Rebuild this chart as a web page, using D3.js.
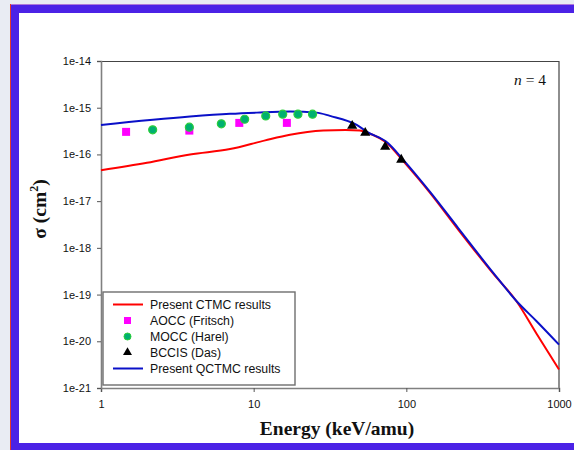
<!DOCTYPE html>
<html>
<head>
<meta charset="utf-8">
<script src="https://cdn.jsdelivr.net/npm/d3@7"></script>
<style>
  body { margin: 0; background: #e9ecf3; }
  svg { display: block; }
</style>
</head>
<body>
<div id="chart-area"></div>
<script>
// energies in keV/amu, cross sections in cm^2
var ctmcE = [1, 2, 3.83, 7, 11.9, 17.3, 28.6, 40, 49.6, 55, 76, 95.5, 143, 218, 371, 528, 713, 1000];
var ctmcSigma = [4.57e-17, 6.6e-17, 1.0e-16, 1.3e-16, 2.0e-16, 2.63e-16, 3.24e-16, 3.35e-16, 3.24e-16, 2.95e-16,
    1.66e-16, 7.2e-17, 1.51e-17, 2.5e-18, 2.8e-19, 7.1e-20, 1.45e-20, 2.5e-21];

var qctmcE = [1, 3.83, 7, 10.5, 17.3, 25.8, 31.6, 47.3, 55, 76, 95.5, 143, 218, 371, 528, 713, 1000];
var qctmcSigma = [4.27e-16, 6.46e-16, 7.4e-16, 7.85e-16, 8.26e-16, 7.85e-16, 6.68e-16, 4.29e-16, 3.08e-16,
    1.74e-16, 7.67e-17, 1.58e-17, 2.69e-18, 2.91e-19, 7.2e-20, 2.69e-20, 8.5e-21];

var aoccE = [1.46, 3.79, 8.05, 16.5];
var aoccSigma = [3.04e-16, 3.24e-16, 4.73e-16, 4.73e-16];

var moccE = [2.18, 3.79, 6.14, 8.73, 12.0, 15.5, 19.5, 24.3];
var moccSigma = [3.36e-16, 3.83e-16, 4.51e-16, 5.67e-16, 6.68e-16, 7.26e-16, 7.26e-16, 7.26e-16];

var bccisE = [44.2, 53.8, 72.7, 92.6];
var bccisSigma = [4.08e-16, 2.9e-16, 1.45e-16, 7.7e-17];

var xTicks = [1, 10, 100, 1000];
var yTicks = [1e-14, 1e-15, 1e-16, 1e-17, 1e-18, 1e-19, 1e-20, 1e-21];

var legendLabels = ["Present CTMC results", "AOCC (Fritsch)", "MOCC (Harel)", "BCCIS (Das)", "Present QCTMC results"];

var margin = {top: 61, right: 15, bottom: 62, left: 101};
var width = 574 - margin.left - margin.right;
var height = 450 - margin.top - margin.bottom;

var svg = d3.select("#chart-area")
  .append("svg")
    .attr("width", 574)
    .attr("height", 450);

// slide frame
svg.append("rect").attr("x", 10).attr("y", 4).attr("width", 564).attr("height", 446).attr("fill", "#e8362a");
svg.append("rect").attr("x", 11).attr("y", 4).attr("width", 563).attr("height", 446).attr("fill", "#4b22e6");
svg.append("rect").attr("x", 11).attr("y", 4).attr("width", 563).attr("height", 0.8).attr("fill", "#c98fd6");
svg.append("rect").attr("x", 19).attr("y", 13).attr("width", 555).attr("height", 430).attr("fill", "#ffffff");

var g = svg.append("g")
    .attr("transform", "translate(" + margin.left + ", " + margin.top + ")");

var x = d3.scaleLog().domain([1, 1000]).range([0, width]);
var y = d3.scaleLog().domain([1e-21, 1e-14]).range([height, 0]);

// frame top + right
g.append("path")
    .attr("d", "M0,0.5H" + width + "V" + height)
    .attr("fill", "none")
    .attr("stroke", "#444")
    .attr("stroke-width", 1.2);

var xAxisGroup = g.append("g")
    .attr("transform", "translate(0, " + height + ")")
    .call(d3.axisBottom(x).tickValues(xTicks).tickFormat(d3.format("d")).tickSize(4).tickPadding(8));

var yAxisGroup = g.append("g")
    .call(d3.axisLeft(y).tickValues(yTicks)
        .tickFormat((d) => { return "1e" + Math.round(Math.log10(d)); })
        .tickSize(4).tickPadding(6));

[xAxisGroup, yAxisGroup].forEach((ax) => {
    ax.select(".domain").attr("stroke", "#808080").attr("stroke-width", 1.6);
    ax.selectAll(".tick line").attr("stroke", "#555");
    ax.selectAll("text")
        .attr("font-family", "Liberation Sans, Arial, sans-serif")
        .attr("font-size", "11px")
        .attr("fill", "#111");
});

// lines
var line = d3.line()
    .x((d) => { return x(d[0]); })
    .y((d) => { return y(d[1]); })
    .curve(d3.curveMonotoneX);

g.append("path")
    .datum(ctmcE.map((e, i) => { return [e, ctmcSigma[i]]; }))
    .attr("d", line)
    .attr("fill", "none")
    .attr("stroke", "#ff0000")
    .attr("stroke-width", 2);

g.append("path")
    .datum(qctmcE.map((e, i) => { return [e, qctmcSigma[i]]; }))
    .attr("d", line)
    .attr("fill", "none")
    .attr("stroke", "#0a10c8")
    .attr("stroke-width", 2);

// markers
g.selectAll(".aocc")
    .data(aoccE.map((e, i) => { return [e, aoccSigma[i]]; }))
  .enter().append("rect")
    .attr("class", "aocc")
    .attr("x", (d) => { return x(d[0]) - 4; })
    .attr("y", (d) => { return y(d[1]) - 4; })
    .attr("width", 8)
    .attr("height", 8)
    .attr("fill", "#ff00ff");

g.selectAll(".mocc")
    .data(moccE.map((e, i) => { return [e, moccSigma[i]]; }))
  .enter().append("circle")
    .attr("class", "mocc")
    .attr("cx", (d) => { return x(d[0]); })
    .attr("cy", (d) => { return y(d[1]); })
    .attr("r", 4)
    .attr("fill", "#00b070")
    .attr("stroke", "#2ccf3a")
    .attr("stroke-width", 1.2);

var tri = d3.symbol().type(d3.symbolTriangle).size(45);
g.selectAll(".bccis")
    .data(bccisE.map((e, i) => { return [e, bccisSigma[i]]; }))
  .enter().append("path")
    .attr("class", "bccis")
    .attr("d", tri)
    .attr("transform", (d) => { return "translate(" + x(d[0]) + "," + y(d[1]) + ")"; })
    .attr("fill", "#000");

// legend
var legend = g.append("g").attr("transform", "translate(2, 231)");
legend.append("rect")
    .attr("x", 0).attr("y", 0).attr("width", 192).attr("height", 93)
    .attr("fill", "#fff")
    .attr("stroke", "#6e6e6e")
    .attr("stroke-width", 1.4);

legendLabels.forEach((lab, i) => {
    var ly = 12.5 + i * 16;
    var row = legend.append("g").attr("transform", "translate(0," + ly + ")");
    if (i == 0 || i == 4) {
        row.append("line").attr("x1", 10).attr("x2", 40).attr("y1", 0).attr("y2", 0)
            .attr("stroke", i == 0 ? "#ff0000" : "#0a10c8").attr("stroke-width", 2);
    } else if (i == 1) {
        row.append("rect").attr("x", 21).attr("y", -3.5).attr("width", 7).attr("height", 7).attr("fill", "#ff00ff");
    } else if (i == 2) {
        row.append("circle").attr("cx", 24.5).attr("cy", 0).attr("r", 3.5)
            .attr("fill", "#00b070").attr("stroke", "#2ccf3a").attr("stroke-width", 1);
    } else {
        row.append("path").attr("d", d3.symbol().type(d3.symbolTriangle).size(35))
            .attr("transform", "translate(24.5,0)").attr("fill", "#000");
    }
    row.append("text")
        .attr("x", 47)
        .attr("y", 4.3)
        .attr("font-family", "Liberation Sans, Arial, sans-serif")
        .attr("font-size", "12.3px")
        .attr("fill", "#111")
        .text(lab);
});

// n = 4
var nLabel = g.append("text")
    .attr("x", width - 13)
    .attr("y", 24)
    .attr("text-anchor", "end")
    .attr("font-family", "Liberation Serif, Times New Roman, serif")
    .attr("font-size", "15.5px")
    .attr("fill", "#111");
nLabel.append("tspan").attr("font-style", "italic").text("n");
nLabel.append("tspan").text(" = 4");

// axis titles
g.append("text")
    .attr("x", 236)
    .attr("y", height + 47)
    .attr("text-anchor", "middle")
    .attr("font-family", "Liberation Serif, Times New Roman, serif")
    .attr("font-weight", "bold")
    .attr("font-size", "19.5px")
    .attr("fill", "#111")
    .text("Energy (keV/amu)");

var yLabel = g.append("text")
    .attr("transform", "translate(-55," + 148 + ") rotate(-90)")
    .attr("text-anchor", "middle")
    .attr("font-family", "Liberation Serif, Times New Roman, serif")
    .attr("font-weight", "bold")
    .attr("font-size", "19.5px")
    .attr("fill", "#111");
yLabel.append("tspan").text("σ (cm");
yLabel.append("tspan").attr("font-size", "12px").attr("dy", -8).text("2");
yLabel.append("tspan").attr("dy", 8).text(")");
</script>
</body>
</html>
